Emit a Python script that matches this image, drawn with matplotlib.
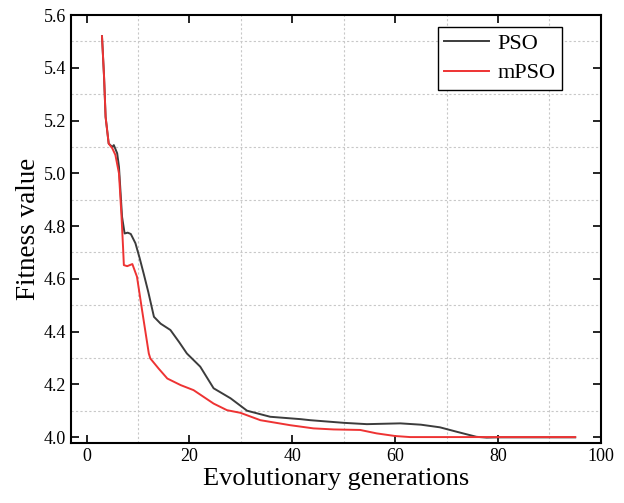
import numpy as np
import matplotlib.pyplot as plt
from matplotlib.ticker import MultipleLocator

# valores
gen_pso = [3, 3.4, 3.7, 4.3, 5.0, 5.3, 5.95, 6.3, 6.9, 7.4, 8.0, 8.6, 9.5, 10.3, 11.1,
           12.0, 13.1, 14.4, 16.3, 18.0, 19.5, 22.1, 24.7, 28.0, 31.2, 35.7, 41.6,
           43.5, 50.0, 54.5, 61.0, 65.0, 68.7, 72.0, 75.8, 77.8, 80.0, 88.0, 95.0]
fit_pso = [5.52, 5.366, 5.214, 5.113, 5.10, 5.107, 5.076, 5.025, 4.835, 4.772, 4.775, 4.77,
           4.735, 4.68, 4.62, 4.55, 4.456, 4.43, 4.406, 4.36, 4.317, 4.267, 4.185, 4.147,
           4.10, 4.077, 4.068, 4.064, 4.054, 4.049, 4.052, 4.047, 4.037, 4.02, 4.001,
           3.998, 3.999, 3.999, 3.999]

gen_mpso = [3, 3.4, 3.7, 4.3, 5.0, 5.6, 6.3, 6.8, 7.1, 7.25, 7.9, 8.9, 9.8, 10.8, 12.1,
            12.4, 14.0, 15.7, 18.3, 20.8, 24.7, 27.3, 29.9, 33.8, 39.6, 44.1, 48.0,
            53.2, 56.4, 60.0, 62.9, 70.0, 80.0, 95.0]
fit_mpso = [5.52, 5.366, 5.214, 5.113, 5.095, 5.07, 5.0, 4.835, 4.717, 4.652, 4.648,
            4.656, 4.608, 4.48, 4.317, 4.298, 4.26, 4.222, 4.197, 4.178, 4.127, 4.102,
            4.092, 4.064, 4.045, 4.033, 4.029, 4.027, 4.014, 4.004, 4.0, 4.0, 4.0, 4.0]

plt.rcParams["font.family"] = ["Liberation Serif", "DejaVu Serif"]

fig = plt.figure(figsize=(6.24, 5.03), dpi=100)
ax = fig.add_axes([0.114, 0.119, 0.849, 0.851])

ax.plot(gen_pso, fit_pso, color="#3c3c3c", lw=1.4, label="PSO")
ax.plot(gen_mpso, fit_mpso, color="#ee3333", lw=1.4, label="mPSO")

ax.set_xlim(-3, 100)
ax.set_ylim(3.977, 5.6)
ax.xaxis.set_major_locator(MultipleLocator(20))
ax.xaxis.set_minor_locator(MultipleLocator(10))
ax.yaxis.set_major_locator(MultipleLocator(0.2))
ax.yaxis.set_minor_locator(MultipleLocator(0.1))
ax.yaxis.set_major_formatter(plt.FormatStrFormatter("%.1f"))

ax.tick_params(which="major", direction="in", length=6, width=1.2,
               top=True, right=True, labelsize=13)
ax.tick_params(which="minor", length=0)
ax.grid(which="minor", color="#c8c8c8", linestyle=(0, (2, 2)), lw=0.8)
for s in ax.spines.values():
    s.set_linewidth(1.5)

ax.set_xlabel("Evolutionary generations", fontsize=19, labelpad=2)
ax.set_ylabel("Fitness value", fontsize=19.5, labelpad=2)

leg = ax.legend(loc="upper right", bbox_to_anchor=(0.927, 0.973), fontsize=16,
                fancybox=False, edgecolor="black", framealpha=1,
                handlelength=2.0, handletextpad=0.4, borderpad=0.3,
                labelspacing=0.4, borderaxespad=0)
leg.get_frame().set_linewidth(1.0)

fig.savefig("out.png", dpi=100)
